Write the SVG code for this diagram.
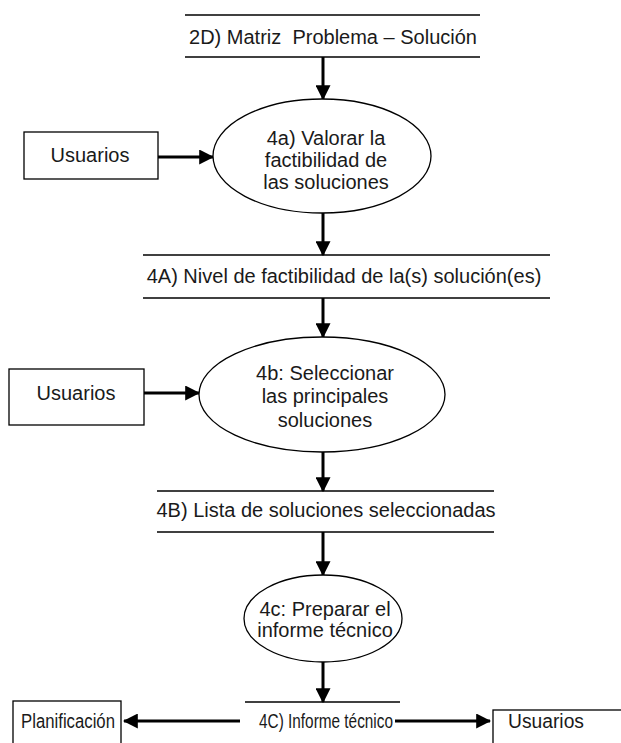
<svg xmlns="http://www.w3.org/2000/svg" width="621" height="743" viewBox="0 0 621 743">
<defs>
<marker id="ah" markerWidth="5" markerHeight="5" refX="4.6" refY="2.5" orient="auto" markerUnits="strokeWidth">
<path d="M0,0 L5,2.5 L0,5 Z" fill="#000"/>
</marker>
<style>
text{font-family:"Liberation Sans",Arial,sans-serif;font-size:20px;fill:#1a1a1a;text-anchor:middle}
.ln{stroke:#000;stroke-width:1.3;fill:none}
.box{stroke:#000;stroke-width:1.3;fill:#fff}
.arr{stroke:#000;stroke-width:3;fill:none;marker-end:url(#ah)}
</style>
</defs>
<rect width="621" height="743" fill="#fff"/>
<g id="connectors">
<line class="arr" x1="323" y1="57" x2="323" y2="99"/>
<line class="arr" x1="158" y1="157" x2="213" y2="157"/>
<line class="arr" x1="323" y1="213" x2="323" y2="255"/>
<line class="arr" x1="323" y1="298" x2="323" y2="337"/>
<line class="arr" x1="144" y1="393" x2="199" y2="393"/>
<line class="arr" x1="323" y1="452" x2="323" y2="491"/>
<line class="arr" x1="323" y1="532" x2="323" y2="575"/>
<line class="arr" x1="323" y1="662" x2="323" y2="702"/>
<line class="arr" x1="240" y1="721" x2="124" y2="721"/>
<line class="arr" x1="395" y1="721" x2="490" y2="721"/>
</g>
<g id="store2D">
<line class="ln" x1="185" y1="15" x2="480" y2="15"/>
<line class="ln" x1="185" y1="57" x2="480" y2="57"/>
<text x="333" y="44" xml:space="preserve">2D) Matriz  Problema – Solución</text>
</g>
<g id="proc4a">
<ellipse class="box" cx="322" cy="156" rx="109" ry="57"/>
<text x="326" y="145">4a) Valorar la</text>
<text x="326" y="167">factibilidad de</text>
<text x="326" y="189">las soluciones</text>
</g>
<g id="usuarios1">
<rect class="box" x="24" y="132" width="134" height="47"/>
<text x="90" y="162">Usuarios</text>
</g>
<g id="store4A">
<line class="ln" x1="143" y1="255" x2="550" y2="255"/>
<line class="ln" x1="143" y1="298" x2="550" y2="298"/>
<text x="344" y="283">4A) Nivel de factibilidad de la(s) solución(es)</text>
</g>
<g id="proc4b">
<ellipse class="box" cx="322" cy="394.5" rx="123" ry="57.5"/>
<text x="325" y="380">4b: Seleccionar</text>
<text x="325" y="403">las principales</text>
<text x="325" y="427">soluciones</text>
</g>
<g id="usuarios2">
<rect class="box" x="9" y="369" width="135" height="56"/>
<text x="76" y="400">Usuarios</text>
</g>
<g id="store4B">
<line class="ln" x1="157" y1="491" x2="494" y2="491"/>
<line class="ln" x1="157" y1="532" x2="494" y2="532"/>
<text x="326" y="517">4B) Lista de soluciones seleccionadas</text>
</g>
<g id="proc4c">
<ellipse class="box" cx="323" cy="618.5" rx="79" ry="43.5"/>
<text x="325" y="616">4c: Preparar el</text>
<text x="325" y="637">informe técnico</text>
</g>
<g id="store4C">
<line class="ln" x1="245" y1="702" x2="400" y2="702"/>
<text x="326" y="728" textLength="134" lengthAdjust="spacingAndGlyphs">4C) Informe técnico</text>
</g>
<g id="planificacion">
<rect class="box" x="13" y="701" width="108" height="60"/>
<text x="68" y="728" textLength="94" lengthAdjust="spacingAndGlyphs">Planificación</text>
</g>
<g id="usuarios3">
<rect class="box" x="493" y="710" width="140" height="60"/>
<text x="546" y="728" textLength="76" lengthAdjust="spacingAndGlyphs">Usuarios</text>
</g>
</svg>
